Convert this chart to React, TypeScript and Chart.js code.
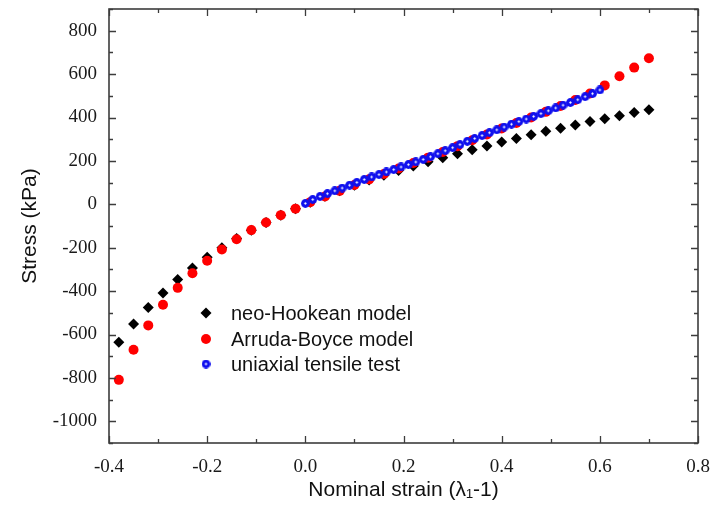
import React, { useEffect, useRef } from 'react';
import { Chart, registerables } from 'chart.js';

Chart.register(...registerables);

// ---- Data ----
const modelStrain = [
  -0.38, -0.35, -0.32, -0.29, -0.26, -0.23, -0.2, -0.17, -0.14, -0.11, -0.08, -0.05, -0.02,
  0.01, 0.04, 0.07, 0.1, 0.13, 0.16, 0.19, 0.22, 0.25, 0.28, 0.31, 0.34, 0.37, 0.4, 0.43,
  0.46, 0.49, 0.52, 0.55, 0.58, 0.61, 0.64, 0.67, 0.7,
];
const neoHookeanStress = [
  -636, -552, -476, -409, -347, -293, -244, -200, -158, -120, -84, -51, -20,
  10, 37, 63, 88, 112, 134, 156, 176, 196, 215, 233, 251, 269, 287, 303,
  320, 337, 351, 366, 381, 394, 408, 423, 436,
];
const arrudaBoyceStress = [
  -809, -670, -558, -463, -385, -318, -260, -208, -161, -119, -84, -50, -20,
  10, 36, 62, 89, 115, 140, 165, 190, 215, 241, 268, 295, 322, 349, 375,
  400, 426, 453, 481, 511, 548, 590, 630, 673,
];
const testStrain = [
  0, 0.015, 0.03, 0.045, 0.06, 0.075, 0.09, 0.105, 0.12, 0.135, 0.15, 0.165, 0.18, 0.195,
  0.21, 0.225, 0.24, 0.255, 0.27, 0.285, 0.3, 0.315, 0.33, 0.345, 0.36, 0.375, 0.39, 0.405,
  0.42, 0.435, 0.45, 0.465, 0.48, 0.495, 0.51, 0.525, 0.54, 0.555, 0.57, 0.585, 0.6,
];
const testStress = [
  4, 22, 36, 49, 62, 75, 88, 101, 114, 126, 137, 149, 160, 172,
  183, 195, 207, 219, 233, 247, 261, 275, 290, 303, 317, 330, 343, 356,
  369, 381, 393, 405, 418, 431, 444, 457, 469, 482, 496, 510, 527,
];

const seriesLabels = ['neo-Hookean model', 'Arruda-Boyce model', 'uniaxial tensile test'];

const xTickValues = [-0.4, -0.2, 0, 0.2, 0.4, 0.6, 0.8];
const xTickLabels = ['-0.4', '-0.2', '0.0', '0.2', '0.4', '0.6', '0.8'];
const yTickValues = [-1000, -800, -600, -400, -200, 0, 200, 400, 600, 800];
const yTickLabels = ['-1000', '-800', '-600', '-400', '-200', '0', '200', '400', '600', '800'];

const xTitle = 'Nominal strain (λ₁-1)';
const yTitle = 'Stress (kPa)';

function makeBall(): HTMLCanvasElement {
  const c = document.createElement('canvas');
  c.width = 9;
  c.height = 9;
  const g = c.getContext('2d')!;
  g.beginPath();
  g.arc(4.5, 4.5, 4.4, 0, Math.PI * 2);
  g.fillStyle = '#0f0fee';
  g.fill();
  const grad = g.createRadialGradient(4.5, 4.5, 0, 4.5, 4.5, 1.7);
  grad.addColorStop(0, 'rgba(255,255,255,1)');
  grad.addColorStop(0.55, 'rgba(215,220,255,0.9)');
  grad.addColorStop(1, 'rgba(30,30,240,0)');
  g.fillStyle = grad;
  g.beginPath();
  g.arc(4.5, 4.5, 1.7, 0, Math.PI * 2);
  g.fill();
  return c;
}

export default function App() {
  const ref = useRef<HTMLCanvasElement>(null);

  useEffect(() => {
    document.body.style.margin = '0';
    const ball = makeBall();

    const framePlugin = {
      id: 'frameTicks',
      afterDraw(chart: any) {
        const { ctx, chartArea, scales } = chart;
        const { left, right, top, bottom } = chartArea;
        const xs = scales.x;
        const ys = scales.y;
        ctx.save();
        ctx.strokeStyle = '#3c3c3c';
        ctx.lineWidth = 1.6;
        ctx.strokeRect(left, top, right - left, bottom - top);
        ctx.lineWidth = 1.3;
        ctx.beginPath();
        for (let i = 0; i <= 12; i++) {
          const v = -0.4 + i * 0.1;
          const px = Math.round(xs.getPixelForValue(v)) + 0.5;
          const len = i % 2 === 0 ? 7 : 4;
          ctx.moveTo(px, bottom);
          ctx.lineTo(px, bottom - len);
          ctx.moveTo(px, top);
          ctx.lineTo(px, top + len);
        }
        for (let i = 0; i <= 20; i++) {
          const v = -1100 + i * 100;
          const py = Math.round(ys.getPixelForValue(v)) + 0.5;
          const len = i % 2 === 1 ? 7 : 4;
          ctx.moveTo(left, py);
          ctx.lineTo(left + len, py);
          ctx.moveTo(right, py);
          ctx.lineTo(right - len, py);
        }
        ctx.stroke();

        // legend inside the plot
        const mx = 206;
        const tx = 231;
        const rows = [313, 339, 364];
        ctx.fillStyle = '#000';
        ctx.beginPath();
        ctx.moveTo(mx, rows[0] - 5.5);
        ctx.lineTo(mx + 5.5, rows[0]);
        ctx.lineTo(mx, rows[0] + 5.5);
        ctx.lineTo(mx - 5.5, rows[0]);
        ctx.closePath();
        ctx.fill();
        ctx.fillStyle = '#ff0000';
        ctx.beginPath();
        ctx.arc(mx, rows[1], 5, 0, Math.PI * 2);
        ctx.fill();
        ctx.drawImage(ball, mx - 4.5, rows[2] - 4.5, 9, 9);
        ctx.fillStyle = '#111';
        ctx.font = '20px "Liberation Sans", Arial, sans-serif';
        ctx.textBaseline = 'middle';
        ctx.textAlign = 'left';
        seriesLabels.forEach((t, i) => ctx.fillText(t, tx, rows[i] + 1));
        ctx.restore();
      },
    };

    const chart = new Chart(ref.current!, {
      type: 'scatter',
      data: {
        datasets: [
          {
            label: seriesLabels[0],
            data: modelStrain.map((x, i) => ({ x, y: neoHookeanStress[i] })),
            pointStyle: 'rectRot',
            pointRadius: 5.5,
            backgroundColor: '#000000',
            borderWidth: 0,
            order: 3,
          },
          {
            label: seriesLabels[1],
            data: modelStrain.map((x, i) => ({ x, y: arrudaBoyceStress[i] })),
            pointStyle: 'circle',
            pointRadius: 5,
            backgroundColor: '#ff0000',
            borderWidth: 0,
            order: 2,
          },
          {
            label: seriesLabels[2],
            data: testStrain.map((x, i) => ({ x, y: testStress[i] })),
            pointStyle: ball,
            pointRadius: 4.5,
            backgroundColor: '#0f0fee',
            borderWidth: 0,
            order: 1,
          },
        ],
      },
      options: {
        animation: false,
        responsive: false,
        events: [],
        layout: { padding: { top: 9, right: 13, left: 0, bottom: 0 } },
        plugins: { legend: { display: false }, tooltip: { enabled: false } },
        scales: {
          x: {
            type: 'linear',
            min: -0.4,
            max: 0.8,
            grid: { display: false, drawTicks: false },
            border: { display: false },
            afterBuildTicks: (s: any) => {
              s.ticks = xTickValues.map((v) => ({ value: v }));
            },
            afterFit: (s: any) => {
              s.height = 67;
              s.paddingLeft = 0;
              s.paddingRight = 0;
            },
            ticks: {
              callback: (_v: any, i: number) => xTickLabels[i],
              font: { family: '"Liberation Serif", "Times New Roman", serif', size: 19 },
              color: '#1a1a1a',
              padding: 13,
              maxRotation: 0,
              autoSkip: false,
            },
            title: {
              display: true,
              text: xTitle,
              font: { family: '"Liberation Sans", Arial, sans-serif', size: 21 },
              color: '#111',
              padding: { top: 0, bottom: 7 },
            },
          },
          y: {
            type: 'linear',
            min: -1100,
            max: 900,
            grid: { display: false, drawTicks: false },
            border: { display: false },
            afterBuildTicks: (s: any) => {
              s.ticks = yTickValues.map((v) => ({ value: v }));
            },
            afterFit: (s: any) => {
              s.width = 109;
              s.paddingTop = 0;
              s.paddingBottom = 0;
            },
            ticks: {
              callback: (_v: any, i: number) => yTickLabels[i],
              font: { family: '"Liberation Serif", "Times New Roman", serif', size: 19 },
              color: '#1a1a1a',
              padding: 12,
              autoSkip: false,
            },
            title: {
              display: true,
              text: yTitle,
              font: { family: '"Liberation Sans", Arial, sans-serif', size: 21 },
              color: '#111',
              padding: { top: 18, bottom: 0 },
            },
          },
        },
      },
      plugins: [framePlugin],
    } as any);

    return () => chart.destroy();
  }, []);

  return (
    <div style={{ width: 711, height: 510, background: '#fff' }}>
      <canvas ref={ref} width={711} height={510} style={{ display: 'block' }} />
    </div>
  );
}
